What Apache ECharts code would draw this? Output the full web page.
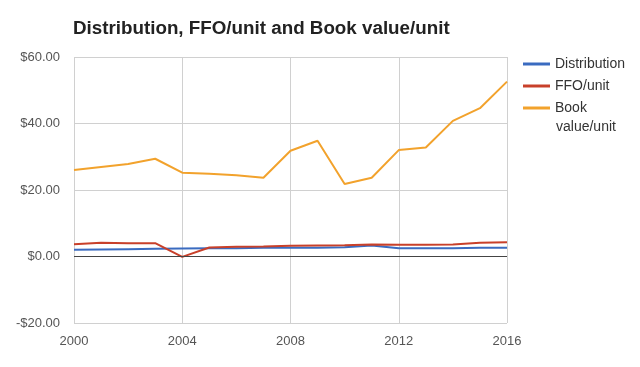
<!DOCTYPE html>
<html><head><meta charset="utf-8">
<script src="https://cdn.jsdelivr.net/npm/echarts@6/dist/echarts.min.js"></script>
<style>html,body{margin:0;padding:0;background:#fff}#c{width:640px;height:367px}</style>
</head><body><div id="c"></div>
<script>
var years = [2000,2001,2002,2003,2004,2005,2006,2007,2008,2009,2010,2011,2012,2013,2014,2015,2016];
var distribution = [2.0,2.1,2.2,2.3,2.4,2.5,2.5,2.6,2.6,2.6,2.8,3.3,2.5,2.5,2.5,2.6,2.6];
var ffo = [3.7,4.1,4.0,4.0,-0.1,2.7,2.9,3.0,3.2,3.3,3.4,3.6,3.5,3.5,3.6,4.1,4.3];
var book = [26.0,26.9,27.8,29.4,25.2,24.9,24.4,23.7,31.8,34.8,21.8,23.7,32.0,32.8,40.8,44.6,52.6];
var seriesNames = ['Distribution','FFO/unit','Book value/unit'];
var colors = ['#3a6bc0','#c8402a','#f2a22c'];
function pairs(v){return years.map(function(y,i){return [y,v[i]];});}
var chart = echarts.init(document.getElementById('c'));
var font = 'Liberation Sans, Arial, sans-serif';
var legendText = {fontFamily:font,fontSize:14,color:'#333',lineHeight:18};
chart.setOption({
  animation:false,
  title:{text:'Distribution, FFO/unit and Book value/unit',left:68,top:14,
    textStyle:{fontFamily:font,fontSize:18.8,fontWeight:'bold',color:'#222'}},
  grid:{left:74,right:133,top:57,bottom:44},
  legend:[
    {orient:'vertical',left:518,top:50,itemWidth:27,itemHeight:3,itemGap:4,icon:'rect',padding:5,
     data:[seriesNames[0],seriesNames[1]],textStyle:legendText},
    {orient:'vertical',left:518,top:94,itemWidth:27,itemHeight:3,itemGap:4,icon:'rect',padding:5,
     data:[seriesNames[2]],
     formatter:function(n){return 'Book';},
     textStyle:legendText}
  ],
  graphic:[{type:'text',left:556,top:120,style:{text:'value/unit',font:'14px ' + font,fill:'#333'}}],
  xAxis:{type:'value',min:2000,max:2016,interval:4,
    axisLine:{show:false},axisTick:{show:false},
    axisLabel:{fontFamily:font,fontSize:13,color:'#555',margin:12,formatter:function(v){return String(v);}},
    splitLine:{show:true,lineStyle:{color:'#d0d0d0',width:1}}},
  yAxis:{type:'value',min:-20,max:60,interval:20,
    axisLine:{show:false},axisTick:{show:false},
    axisLabel:{fontFamily:font,fontSize:13,color:'#555',margin:14,
      formatter:function(v){return (v<0?'-$':'$')+Math.abs(v).toFixed(2);}},
    splitLine:{show:true,lineStyle:{color:'#d0d0d0',width:1}}},
  series:[
    {name:seriesNames[0],type:'line',data:pairs(distribution),symbol:'none',color:colors[0],lineStyle:{width:2},
     markLine:{silent:true,symbol:'none',label:{show:false},lineStyle:{color:'#444',width:1,type:'solid'},data:[{yAxis:0}]},z:3},
    {name:seriesNames[1],type:'line',data:pairs(ffo),symbol:'none',color:colors[1],lineStyle:{width:2},z:4},
    {name:seriesNames[2],type:'line',data:pairs(book),symbol:'none',color:colors[2],lineStyle:{width:2},z:5}
  ]
});
</script></body></html>
